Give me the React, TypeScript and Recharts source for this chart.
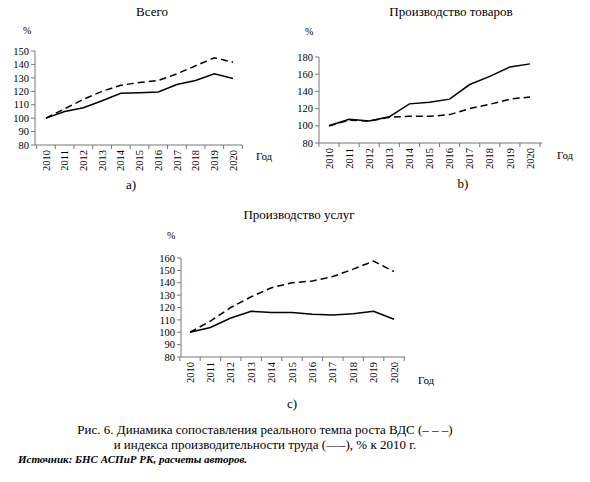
import React from "react";
import { LineChart, Line, XAxis, YAxis } from "recharts";

const years = ["2010", "2011", "2012", "2013", "2014", "2015", "2016", "2017", "2018", "2019", "2020"];

// a) Всего
const totalGva = [100, 107, 114, 120, 124.5, 126.5, 128, 133, 139, 145, 141.7];
const totalLabour = [100, 105, 107.7, 113, 118.5, 119, 119.5, 125, 128, 133, 129.5];

// b) Производство товаров
const goodsGva = [100, 106.5, 105.5, 110, 111, 111, 113, 120, 125, 131, 133.5];
const goodsLabour = [100, 107.5, 105.5, 110.5, 125.5, 127.5, 131, 148, 157.5, 168.5, 172];

// c) Производство услуг
const servicesGva = [100, 109, 120, 128.7, 136, 140, 141.5, 145, 151, 157.5, 149];
const servicesLabour = [100, 103.8, 111.5, 117, 116, 116, 114.5, 114, 115, 117, 110.5];

const ticksA = [80, 90, 100, 110, 120, 130, 140, 150];
const ticksB = [80, 100, 120, 140, 160, 180];
const ticksC = [80, 90, 100, 110, 120, 130, 140, 150, 160];

const FONT = "'Liberation Serif', 'Times New Roman', serif";
const AXIS = "#777";
const X_AXIS_H = 30;

const build = (gva: number[], labour: number[]) =>
  years.map((y, i) => ({ year: y, gva: gva[i], labour: labour[i] }));

const YearTick = (props: any) => {
  const { x, y, payload, index, step, count } = props;
  return (
    <g>
      <line x1={x - step / 2} y1={y} x2={x - step / 2} y2={y + 4} stroke={AXIS} />
      {index === count - 1 && (
        <line x1={x + step / 2} y1={y} x2={x + step / 2} y2={y + 4} stroke={AXIS} />
      )}
      <text
        x={x}
        y={y + 5}
        dy="0.35em"
        transform={`rotate(-90, ${x}, ${y + 5})`}
        textAnchor="end"
        fontSize={10.5}
        fontFamily={FONT}
        fill="#000"
      >
        {payload.value}
      </text>
    </g>
  );
};

const ValueTick = (props: any) => {
  const { x, y, payload } = props;
  return (
    <text x={x} y={y} dy="0.35em" textAnchor="end" fontSize={10.5} fontFamily={FONT} fill="#000">
      {payload.value}
    </text>
  );
};

type PanelProps = {
  left: number;
  top: number;
  width: number;
  height: number;
  // plot box: top edge, bottom edge, left edge (y axis) and right edge, inside the panel
  plotTop: number;
  plotBottom: number;
  plotLeft: number;
  plotRight: number;
  pad: { left: number; right: number };
  domain: [number, number];
  ticks: number[];
  gva: number[];
  labour: number[];
};

const Panel = (p: PanelProps) => {
  const data = build(p.gva, p.labour);
  const plotW = p.plotRight - p.plotLeft;
  const step = (plotW - p.pad.left - p.pad.right) / (years.length - 1);
  const margin = {
    top: p.plotTop,
    right: p.width - p.plotRight,
    bottom: p.height - p.plotBottom - X_AXIS_H,
    left: 0,
  };
  return (
    <div style={{ position: "absolute", left: p.left, top: p.top }}>
      <LineChart width={p.width} height={p.height} data={data} margin={margin} style={{ fontFamily: FONT }}>
        <XAxis
          dataKey="year"
          height={X_AXIS_H}
          padding={p.pad}
          stroke={AXIS}
          tickLine={false}
          tickSize={0}
          tickMargin={0}
          interval={0}
          tick={<YearTick step={step} count={years.length} />}
        />
        <YAxis
          width={p.plotLeft}
          domain={p.domain}
          ticks={p.ticks}
          interval={0}
          stroke={AXIS}
          tickSize={4}
          tickMargin={2}
          tick={<ValueTick />}
        />
        <Line
          dataKey="gva"
          stroke="#000"
          strokeWidth={1.5}
          strokeDasharray="7 4"
          dot={false}
          isAnimationActive={false}
        />
        <Line
          dataKey="labour"
          stroke="#000"
          strokeWidth={1.5}
          dot={false}
          isAnimationActive={false}
        />
      </LineChart>
    </div>
  );
};

const Txt = ({ x, y, size, children, center, style }: any) => (
  <div
    style={{
      position: "absolute",
      left: x,
      top: y,
      fontSize: size,
      fontFamily: FONT,
      lineHeight: 1,
      whiteSpace: "nowrap",
      transform: center ? "translateX(-50%)" : undefined,
      color: "#000",
      ...style,
    }}
  >
    {children}
  </div>
);

export default function App() {
  return (
    <div style={{ position: "absolute", left: 0, top: 0, width: 590, height: 482, background: "#fff" }}>
      <Panel
        left={0}
        top={0}
        width={290}
        height={200}
        plotTop={51}
        plotBottom={145}
        plotLeft={35}
        plotRight={242}
        pad={{ left: 11, right: 9 }}
        domain={[80, 150]}
        ticks={ticksA}
        gva={totalGva}
        labour={totalLabour}
      />
      <Panel
        left={290}
        top={0}
        width={300}
        height={200}
        plotTop={57}
        plotBottom={143}
        plotLeft={29}
        plotRight={252}
        pad={{ left: 10, right: 12 }}
        domain={[80, 180]}
        ticks={ticksB}
        gva={goodsGva}
        labour={goodsLabour}
      />
      <Panel
        left={140}
        top={200}
        width={300}
        height={210}
        plotTop={58}
        plotBottom={157}
        plotLeft={41}
        plotRight={265}
        pad={{ left: 9, right: 11 }}
        domain={[80, 160]}
        ticks={ticksC}
        gva={servicesGva}
        labour={servicesLabour}
      />

      <Txt x={152} y={5} size={13} center>Всего</Txt>
      <Txt x={23} y={26} size={10}>%</Txt>
      <Txt x={256} y={151} size={11}>Год</Txt>
      <Txt x={131} y={178} size={13} center>a)</Txt>

      <Txt x={451} y={5} size={13} center>Производство товаров</Txt>
      <Txt x={305} y={27} size={10}>%</Txt>
      <Txt x={557} y={150} size={11}>Год</Txt>
      <Txt x={463} y={177} size={13} center>b)</Txt>

      <Txt x={299} y={208} size={13} center>Производство услуг</Txt>
      <Txt x={167} y={231} size={10}>%</Txt>
      <Txt x={418} y={375} size={11}>Год</Txt>
      <Txt x={292} y={397} size={13} center>c)</Txt>

      <Txt x={265} y={423} size={13} center>
        Рис. 6. Динамика сопоставления реального темпа роста ВДС (– – –)
      </Txt>
      <Txt x={265} y={438} size={13} center>
        и индекса производительности труда (—–), % к 2010 г.
      </Txt>
      <Txt x={18} y={454} size={11} style={{ fontStyle: "italic", fontWeight: "bold" }}>
        Источник: БНС АСПиР РК, расчеты авторов.
      </Txt>
    </div>
  );
}
